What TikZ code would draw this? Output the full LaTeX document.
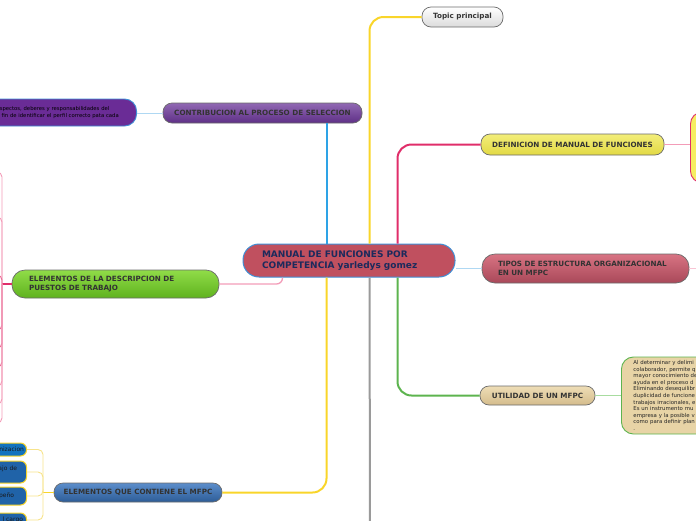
\documentclass[tikz,border=0pt]{standalone}
\usepackage{fontspec}
\setmainfont{DejaVu Sans}
\usepackage{tikz}
\usetikzlibrary{positioning,calc}
\usepackage{xcolor}
\definecolor{hubfill}{HTML}{C0505F}
\definecolor{hubline}{HTML}{3F8FD6}
\definecolor{hubtext}{HTML}{1B2A5C}
\definecolor{blubr}{HTML}{2EA3E6}
\definecolor{yelbr}{HTML}{F9D52A}
\definecolor{redbr}{HTML}{E02E6A}
\definecolor{grnbr}{HTML}{5DB44F}
\definecolor{graybr}{HTML}{9A9A9A}
\definecolor{pinkln}{HTML}{F39CB8}
\definecolor{skyln}{HTML}{AFD8F3}
\definecolor{lgrnln}{HTML}{A8DCA0}
\definecolor{lyelln}{HTML}{F7E38A}
\definecolor{boxline}{HTML}{6B6B6B}
\definecolor{contribtop}{HTML}{9169B3}
\definecolor{contribbot}{HTML}{5E2F86}
\definecolor{defintop}{HTML}{F3EE7A}
\definecolor{definbot}{HTML}{E2D944}
\definecolor{tipostop}{HTML}{D87483}
\definecolor{tiposbot}{HTML}{A94859}
\definecolor{utiltop}{HTML}{EEDDB6}
\definecolor{utilbot}{HTML}{D4BC8C}
\definecolor{desctop}{HTML}{90DC48}
\definecolor{descbot}{HTML}{5FB21E}
\definecolor{conttop}{HTML}{5C8ECB}
\definecolor{contbot}{HTML}{2D5C97}
\definecolor{purpfill}{HTML}{6A2C96}
\definecolor{defkidfill}{HTML}{F6EE62}
\definecolor{utilkidfill}{HTML}{E8D4A6}
\definecolor{subfill}{HTML}{2063A8}
\definecolor{subfilltop}{HTML}{1273BE}
\tikzset{
  branch/.style={draw=boxline,line width=0.7pt,rounded corners=9pt,text=black!80,
    font=\fontsize{7.2}{9}\selectfont\bfseries,inner sep=1pt},
  leafbox/.style={line width=0.9pt,rounded corners=12pt,inner sep=1pt},
  subbox/.style={draw=yelbr,line width=1pt,rounded corners=6pt,text=black!90,fill=subfill,
    font=\fontsize{6}{7}\selectfont,text width=60pt,align=right,inner xsep=2.5pt,inner ysep=0pt,anchor=east},
  mainln/.style={line width=2pt,rounded corners=14pt},
  thinln/.style={line width=0.9pt,rounded corners=5pt},
}

\begin{document}
\begin{tikzpicture}[x=1pt,y=-1pt]
  \useasboundingbox (0,0) rectangle (696,520);
  % central topic
  \node[draw=hubline,line width=1pt,fill=hubfill,rounded corners=16pt,minimum width=212pt,minimum height=33pt,
    text width=174pt,align=left,text=hubtext,font=\fontsize{9}{10.5}\selectfont\bfseries] (hub) at (349,260.5)
    {MANUAL DE FUNCIONES POR\\COMPETENCIA yarledys gomez};
  % branches
  \node[branch,top color=white,bottom color=black!14,minimum width=81pt,minimum height=20pt] (topic) at (462.5,17) {Topic principal};
  \node[branch,top color=contribtop,bottom color=contribbot,minimum width=199pt,minimum height=20pt] (contrib) at (262.5,113)
    {CONTRIBUCION AL PROCESO DE SELECCION};
  \node[branch,top color=defintop,bottom color=definbot,minimum width=183pt,minimum height=21pt] (defin) at (572.5,144.5)
    {DEFINICION DE MANUAL DE FUNCIONES};
  \node[branch,top color=tipostop,bottom color=tiposbot,minimum width=207pt,minimum height=29pt,rounded corners=13pt,
    text width=175pt,align=left] (tipos) at (585.5,268.5)
    {TIPOS DE ESTRUCTURA ORGANIZACIONAL\\EN UN MFPC};
  \node[branch,top color=utiltop,bottom color=utilbot,minimum width=115pt,minimum height=19pt] (util) at (537.5,395.5)
    {UTILIDAD DE UN MFPC};
  \node[branch,top color=desctop,bottom color=descbot,minimum width=207pt,minimum height=28pt,rounded corners=13pt,
    text width=173pt,align=left] (desc) at (115.5,284)
    {ELEMENTOS DE LA DESCRIPCION DE\\PUESTOS DE TRABAJO};
  \node[branch,top color=conttop,bottom color=contbot,minimum width=168pt,minimum height=19pt] (cont) at (138,492.5)
    {ELEMENTOS QUE CONTIENE EL MFPC};
  % leaves
  \node[leafbox,draw=hubline,fill=purpfill,anchor=east,minimum height=27pt,text width=127pt,align=left,inner xsep=13pt,
    font=\fontsize{5.3}{6.2}\selectfont,text=black] (purp) at (137,112.5)
    {aspectos, deberes y responsabilidades del\\\hspace*{5pt}fin de identificar el perfil correcto pata cada};
  \node[leafbox,draw=redbr,fill=defkidfill,anchor=west,minimum width=120pt,minimum height=71pt] (defkid) at (690,147.5) {};
  \node[leafbox,draw=grnbr,fill=utilkidfill,anchor=west,minimum height=77pt,text width=140pt,align=left,inner xsep=12pt,
    font=\fontsize{5.4}{6.6}\selectfont,text=black!85] (utilkid) at (621,395.5)
    {Al determinar y delimi\\colaborador, permite q\\mayor conocimiento de\\ayuda en el proceso d\\Eliminando desequilibr\\duplicidad de funcione\\trabajos irracionales, e\\Es un instrumento mu\\empresa y la posible v\\como para definir plan\\.};
  \node[subbox,fill=subfilltop,minimum height=13pt] (sub1) at (27,449.5) {nizacion};
  \node[subbox,minimum height=22pt] (sub2) at (27,472) {ajo de\rule{7pt}{0pt}\\\mbox{}};
  \node[subbox,minimum height=18pt] (sub3) at (27,496) {peño\rule{10pt}{0pt}};
  \node[subbox,minimum height=14pt] (sub4) at (27,520) {l cargo\rule{1pt}{0pt}};
  % helper points
  \coordinate (hubB) at ([xshift=84pt]hub.north west);
  \coordinate (hubY) at ([xshift=127pt]hub.north west);
  \coordinate (hubR) at ([xshift=155pt]hub.north west);
  \coordinate (hubG) at ([xshift=155pt]hub.south west);
  \coordinate (hubY2) at ([xshift=84pt]hub.south west);
  \coordinate (hubK) at ([xshift=127pt]hub.south west);
  \coordinate (hubP) at ([xshift=40pt]hub.south west);
  \coordinate (grayend) at (370,525);
  \coordinate (tiposend) at (700,268.5);
  \coordinate (ctrunk) at (43,492.5);
  \coordinate (dtrunk) at (2,284);
  % main branches
  \draw[mainln,blubr] (hubB) -- (hubB |- contrib.south);
  \draw[mainln,yelbr] (hubY) |- (topic.west);
  \draw[mainln,redbr] (hubR) |- (defin.west);
  \draw[mainln,grnbr] (hubG) |- (util.west);
  \draw[mainln,yelbr] (hubY2) |- (cont.east);
  \draw[mainln,graybr] (hubK) -- (grayend);
  \draw[thinln,pinkln,line width=1.3pt,rounded corners=6pt] (hubP) |- (desc.east);
  \draw[thinln,skyln,line width=1.3pt] (tipos.west) -- (tipos.west -| hub.east);
  % leaf links
  \draw[thinln,skyln] (contrib.west) -- (purp.east |- contrib.west);
  \draw[thinln,pinkln] (defin.east) -- (defin.east -| defkid.west);
  \draw[thinln,lgrnln] (util.east) -- (utilkid.west);
  \draw[thinln,pinkln!60] (tipos.east) -- (tiposend);
  % children of cont
  \draw[thinln,yelbr,line width=1.3pt] (cont.west) -- (ctrunk);
  \draw[thinln,lyelln] (ctrunk) |- (sub1.east);
  \draw[thinln,lyelln] (ctrunk) |- (sub2.east);
  \draw[thinln,lyelln] (ctrunk) |- (sub3.east);
  \draw[thinln,lyelln] (ctrunk) |- (sub4.east);
  % children of desc (outside the page)
  \draw[thinln,redbr,line width=1.3pt] (desc.west) -- (dtrunk);
  \draw[thinln,pinkln] (dtrunk) |- (-10,172);
  \draw[thinln,pinkln] (dtrunk) |- (-10,217);
  \draw[thinln,redbr!70] (dtrunk) |- (-10,275);
  \draw[thinln,redbr!70] (dtrunk) |- (-10,330);
  \draw[thinln,redbr!70] (dtrunk) |- (-10,348);
  \draw[thinln,redbr!70] (dtrunk) |- (-10,367);
  \draw[thinln,pinkln] (dtrunk) |- (-10,386);
  \draw[thinln,pinkln] (dtrunk) |- (-10,404);
  \draw[thinln,pinkln] (dtrunk) |- (-10,423);
\end{tikzpicture}
\end{document}
